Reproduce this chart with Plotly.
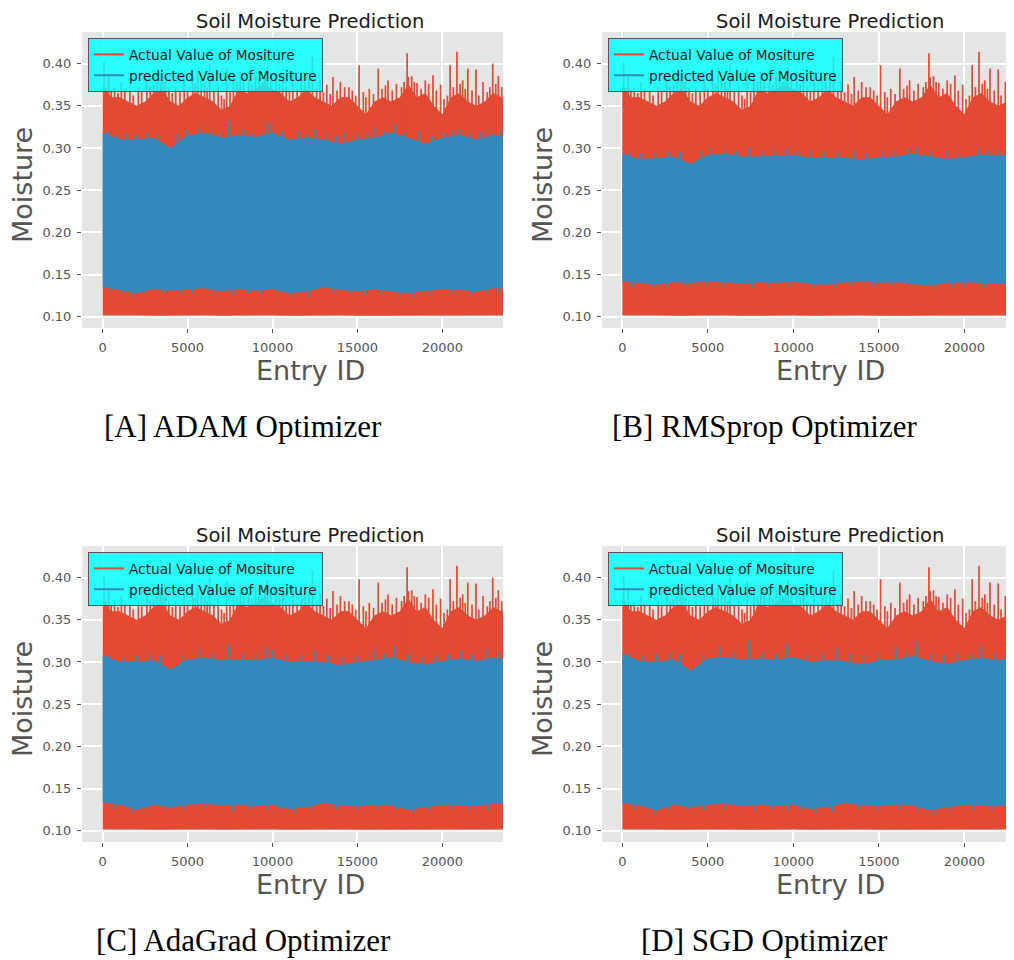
import plotly.graph_objects as go

RED = "#E24A33"
BLUE = "#348ABD"
BG = "#E5E5E5"

# ---------------- data ----------------
entry_fine = list(range(0, 24001, 500))     # sample positions of the actual-value upper envelope
entry_coarse = list(range(0, 24001, 1000))  # sample positions of the other envelopes

actual_upper = [0.375, 0.36, 0.36, 0.355, 0.35, 0.355, 0.365, 0.37, 0.355, 0.35,
                0.36, 0.365, 0.36, 0.355, 0.345, 0.35, 0.37, 0.365, 0.37, 0.375,
                0.37, 0.365, 0.355, 0.36, 0.37, 0.36, 0.355, 0.35, 0.36, 0.36,
                0.35, 0.34, 0.355, 0.36, 0.355, 0.36, 0.375, 0.36, 0.365, 0.35,
                0.34, 0.36, 0.365, 0.355, 0.35, 0.355, 0.365, 0.36, 0.355]
actual_lower = [0.1015, 0.1012, 0.1015, 0.1013, 0.1015, 0.1012, 0.1015, 0.1014, 0.1015, 0.1012,
                0.1015, 0.1013, 0.1015, 0.1012, 0.1015, 0.1014, 0.1015, 0.1012, 0.1015, 0.1013,
                0.1015, 0.1012, 0.1015, 0.1014, 0.1015]
actual_spike_ids = [80, 350, 700, 1100, 1600, 2100, 2600, 3000, 3400, 3700, 4300, 4800, 5300, 5600,
                    6000, 6300, 6800, 7300, 7700, 8100, 8600, 9000, 9400, 9700, 10200, 10600, 11200,
                    11700, 12350, 12800, 13200, 13560, 14000, 14500, 15100, 15700, 16230, 16800,
                    17300, 17930, 18200, 18510, 19000, 19450, 19900, 20460, 20860, 21200, 21500,
                    21980, 22400, 22970, 23300, 23700]
actual_spike_vals = [0.402, 0.385, 0.372, 0.378, 0.368, 0.372, 0.38, 0.375, 0.388, 0.378, 0.372, 0.38,
                     0.385, 0.392, 0.378, 0.40, 0.375, 0.395, 0.385, 0.39, 0.382, 0.385, 0.378, 0.396,
                     0.38, 0.386, 0.39, 0.378, 0.408, 0.38, 0.375, 0.384, 0.378, 0.372, 0.398, 0.37,
                     0.394, 0.38, 0.376, 0.412, 0.385, 0.377, 0.38, 0.386, 0.375, 0.398, 0.414, 0.38,
                     0.394, 0.393, 0.378, 0.40, 0.385, 0.39]
actual_minor_ids = [200, 500, 900, 1300, 1800, 2300, 2800, 3200, 3550, 3900, 4100, 4550, 5000, 5450,
                    5800, 6150, 6550, 7000, 7150, 7500, 7900, 8300, 8800, 9200, 9550, 9900, 10400,
                    10800, 11000, 11450, 11900, 12150, 12600, 13000, 13400, 13800, 14250, 14700,
                    14900, 15350, 15500, 15950, 16450, 16650, 17050, 17600, 17750, 18000, 18350,
                    18750, 19200, 19650, 20100, 20300, 20650, 21050, 21350, 21750, 22150, 22650,
                    22800, 23150, 23500]
actual_minor_vals = [0.372, 0.368, 0.365, 0.37, 0.362, 0.366, 0.372, 0.378, 0.38, 0.372, 0.365, 0.366,
                     0.37, 0.376, 0.38, 0.372, 0.368, 0.362, 0.358, 0.366, 0.378, 0.382, 0.375, 0.38,
                     0.384, 0.38, 0.376, 0.372, 0.368, 0.37, 0.378, 0.382, 0.37, 0.366, 0.364, 0.368,
                     0.372, 0.368, 0.362, 0.366, 0.36, 0.364, 0.37, 0.374, 0.368, 0.372, 0.378, 0.384,
                     0.378, 0.37, 0.376, 0.368, 0.358, 0.362, 0.372, 0.376, 0.37, 0.368, 0.362, 0.366,
                     0.372, 0.376, 0.372]

# ADAM
adam_upper = [0.318, 0.31, 0.31, 0.312, 0.30, 0.315, 0.318, 0.312, 0.315, 0.313, 0.318, 0.31, 0.312,
              0.31, 0.305, 0.31, 0.312, 0.318, 0.312, 0.305, 0.312, 0.315, 0.31, 0.315, 0.312]
adam_lower = [0.135, 0.132, 0.128, 0.133, 0.131, 0.133, 0.134, 0.13, 0.133, 0.131, 0.133, 0.128, 0.13,
              0.135, 0.132, 0.13, 0.133, 0.13, 0.128, 0.131, 0.133, 0.132, 0.13, 0.134, 0.133]
adam_spike_ids = [300, 800, 1400, 2000, 2600, 3300, 4400, 4900, 5700, 6400, 6900, 7400, 8300, 8800,
                  9600, 9900, 10600, 11500, 12000, 12500, 13200, 13800, 14200, 15000, 15600, 16000,
                  16600, 17200, 17800, 18600, 19400, 20100, 20600, 21000, 21600, 22300, 22900, 23400]
adam_spike_vals = [0.32, 0.316, 0.318, 0.315, 0.318, 0.317, 0.316, 0.322, 0.325, 0.32, 0.318, 0.332,
                   0.322, 0.318, 0.33, 0.328, 0.32, 0.32, 0.316, 0.322, 0.316, 0.314, 0.318, 0.316,
                   0.318, 0.325, 0.32, 0.328, 0.318, 0.32, 0.314, 0.318, 0.32, 0.322, 0.318, 0.32,
                   0.318, 0.32]
adam_dip_ids = [500, 1200, 1700, 2400, 3600, 4600, 5300, 6600, 7700, 8600, 9300, 10400, 11100, 12100,
                13600, 14600, 15400, 16400, 17500, 18300, 19300, 20600, 21800, 22600, 23300]
adam_dip_vals = [0.129, 0.127, 0.124, 0.127, 0.128, 0.128, 0.129, 0.127, 0.125, 0.128, 0.127, 0.128,
                 0.124, 0.123, 0.128, 0.127, 0.126, 0.128, 0.125, 0.123, 0.126, 0.128, 0.127, 0.128,
                 0.129]

# RMSprop
rmsprop_upper = [0.293, 0.287, 0.288, 0.29, 0.281, 0.292, 0.293, 0.29, 0.29, 0.291, 0.292, 0.288,
                 0.288, 0.289, 0.286, 0.289, 0.29, 0.293, 0.29, 0.287, 0.289, 0.292, 0.291, 0.293, 0.29]
rmsprop_lower = [0.142, 0.14, 0.138, 0.141, 0.14, 0.142, 0.141, 0.139, 0.141, 0.14, 0.142, 0.139,
                 0.138, 0.141, 0.142, 0.14, 0.141, 0.139, 0.137, 0.14, 0.141, 0.14, 0.139, 0.141, 0.14]
rmsprop_spike_ids = [400, 1100, 1900, 2700, 3400, 4600, 5200, 6100, 6700, 7400, 8200, 8900, 9600,
                     10300, 11000, 11800, 12600, 13600, 14300, 15200, 15900, 16700, 17200, 18000,
                     19000, 19700, 20800, 21400, 22000, 22600]
rmsprop_spike_vals = [0.295, 0.294, 0.294, 0.296, 0.295, 0.296, 0.30, 0.298, 0.296, 0.301, 0.296,
                      0.297, 0.30, 0.296, 0.297, 0.295, 0.295, 0.298, 0.294, 0.296, 0.296, 0.299,
                      0.301, 0.296, 0.297, 0.295, 0.299, 0.297, 0.298, 0.296]
rmsprop_dip_ids = [600, 1800, 2600, 3700, 4900, 5900, 7600, 8500, 9800, 11200, 12400, 13400, 14700,
                   15800, 16900, 18300, 19300, 20000, 21200, 22400]
rmsprop_dip_vals = [0.136, 0.134, 0.136, 0.136, 0.137, 0.136, 0.135, 0.137, 0.136, 0.134, 0.135,
                    0.137, 0.136, 0.137, 0.136, 0.133, 0.136, 0.135, 0.136, 0.136]

# AdaGrad
adagrad_upper = [0.308, 0.30, 0.30, 0.302, 0.291, 0.303, 0.305, 0.302, 0.303, 0.302, 0.305, 0.30,
                 0.301, 0.30, 0.296, 0.30, 0.302, 0.306, 0.30, 0.297, 0.301, 0.304, 0.301, 0.305, 0.302]
adagrad_lower = [0.134, 0.131, 0.125, 0.131, 0.128, 0.131, 0.132, 0.13, 0.131, 0.129, 0.131, 0.126,
                 0.128, 0.133, 0.13, 0.129, 0.131, 0.13, 0.125, 0.128, 0.131, 0.13, 0.129, 0.132, 0.131]
adagrad_spike_ids = [400, 1200, 2000, 2800, 3400, 4700, 5700, 6500, 7400, 8200, 9000, 9600, 10000,
                     10800, 11700, 12500, 13300, 14100, 15000, 16000, 16600, 17200, 18000, 18800,
                     19600, 20400, 21100, 21800, 22600, 23300]
adagrad_spike_vals = [0.308, 0.306, 0.307, 0.309, 0.307, 0.309, 0.315, 0.31, 0.321, 0.31, 0.309,
                      0.318, 0.314, 0.309, 0.308, 0.313, 0.308, 0.306, 0.308, 0.314, 0.31, 0.319,
                      0.309, 0.306, 0.308, 0.309, 0.314, 0.309, 0.315, 0.31]
adagrad_dip_ids = [700, 1800, 2700, 3800, 4800, 6000, 7700, 8700, 9700, 10500, 11300, 12300, 13800,
                   15000, 16200, 17300, 18300, 19200, 20500, 21600, 22700]
adagrad_dip_vals = [0.126, 0.121, 0.126, 0.125, 0.126, 0.127, 0.123, 0.126, 0.125, 0.126, 0.121,
                    0.124, 0.126, 0.125, 0.126, 0.125, 0.121, 0.124, 0.126, 0.125, 0.125]

# SGD
sgd_upper = [0.31, 0.301, 0.30, 0.303, 0.29, 0.304, 0.306, 0.303, 0.304, 0.303, 0.306, 0.30,
             0.302, 0.301, 0.297, 0.302, 0.303, 0.307, 0.301, 0.298, 0.302, 0.305, 0.302, 0.306, 0.303]
sgd_lower = [0.133, 0.13, 0.124, 0.131, 0.128, 0.131, 0.132, 0.129, 0.131, 0.129, 0.131, 0.126,
             0.128, 0.133, 0.13, 0.129, 0.131, 0.13, 0.124, 0.128, 0.131, 0.13, 0.129, 0.132, 0.131]
sgd_spike_ids = [400, 1200, 2000, 2800, 3400, 4700, 5700, 6500, 7400, 8200, 9000, 9600, 10800,
                 11700, 12500, 13300, 14100, 15000, 16000, 16600, 17200, 18000, 18800, 19600,
                 20400, 21000, 21800, 22500, 23300]
sgd_spike_vals = [0.31, 0.308, 0.309, 0.31, 0.309, 0.31, 0.318, 0.312, 0.325, 0.312, 0.31, 0.322,
                  0.31, 0.31, 0.316, 0.31, 0.308, 0.31, 0.317, 0.312, 0.325, 0.31, 0.308, 0.31, 0.31,
                  0.318, 0.31, 0.32, 0.312]
sgd_dip_ids = [700, 1900, 2700, 3800, 4800, 6000, 7700, 8700, 9700, 10500, 11300, 12300, 13800,
               15000, 16200, 17300, 18300, 19200, 20500, 21600, 22700]
sgd_dip_vals = [0.125, 0.119, 0.125, 0.124, 0.125, 0.126, 0.123, 0.125, 0.124, 0.125, 0.12, 0.123,
                0.125, 0.124, 0.125, 0.124, 0.119, 0.123, 0.125, 0.124, 0.124]

y_tick_vals = [0.10, 0.15, 0.20, 0.25, 0.30, 0.35, 0.40]
x_tick_vals = [0, 5000, 10000, 15000, 20000]
series_names = ["Actual Value of Mositure", "predicted Value of Mositure"]
chart_title = "Soil Moisture Prediction"
x_label = "Entry ID"
y_label = "Moisture"
captions = ["[A] ADAM Optimizer", "[B] RMSprop Optimizer", "[C] AdaGrad Optimizer", "[D] SGD Optimizer"]

pred_upper = [adam_upper, rmsprop_upper, adagrad_upper, sgd_upper]
pred_lower = [adam_lower, rmsprop_lower, adagrad_lower, sgd_lower]
pred_spike_ids = [adam_spike_ids, rmsprop_spike_ids, adagrad_spike_ids, sgd_spike_ids]
pred_spike_vals = [adam_spike_vals, rmsprop_spike_vals, adagrad_spike_vals, sgd_spike_vals]
pred_dip_ids = [adam_dip_ids, rmsprop_dip_ids, adagrad_dip_ids, sgd_dip_ids]
pred_dip_vals = [adam_dip_vals, rmsprop_dip_vals, adagrad_dip_vals, sgd_dip_vals]

# ---------------- layout geometry (pixels of the 1014x960 window) ----------------
PAGE_OFF = 8                 # default body margin of the html page
W, H = 1014 - PAGE_OFF, 960 - PAGE_OFF


def fx(p):
    return (p - PAGE_OFF) / W


def fy(p):
    return 1 - (p - PAGE_OFF) / H


# plot boxes: (left, right, top, bottom) in window px
boxes = [(82, 503, 32, 328), (602, 1014, 32, 328), (82, 503, 546, 842), (602, 1014, 546, 842)]
xranges = [[-1219, 23575], [-1187, 22906], [-1219, 23575], [-1187, 22906]]
yrange = [0.0868, 0.4373]
centers_x = [310, 830, 310, 830]
ylabel_x = [22, 542, 22, 542]
caption_x = [243, 764, 243, 764]
row_off = [0, 0, 514, 514]
legend_left = [88, 608, 88, 608]


def segs(ids, vals, base):
    xs, ys = [], []
    for e, v in zip(ids, vals):
        xs += [e, e, None]
        ys += [base, v, None]
    return xs, ys


fig = go.Figure()
layout_axes = {}
annotations = []
legends = {}

for i in range(4):
    xa = "x" if i == 0 else f"x{i+1}"
    ya = "y" if i == 0 else f"y{i+1}"
    lg = "legend" if i == 0 else f"legend{i+1}"

    # actual values: filled band between lower and upper envelopes
    fig.add_trace(go.Scatter(
        x=entry_fine + entry_coarse[::-1],
        y=actual_upper + actual_lower[::-1],
        fill="toself", fillcolor=RED, mode="lines", line=dict(width=0, color=RED),
        showlegend=False, hoverinfo="skip", xaxis=xa, yaxis=ya))
    sx, sy = segs(actual_spike_ids, actual_spike_vals, 0.2)
    mx, my = segs(actual_minor_ids, actual_minor_vals, 0.2)
    fig.add_trace(go.Scatter(x=sx + mx, y=sy + my, mode="lines", line=dict(width=1.7, color=RED),
                             showlegend=False, hoverinfo="skip", xaxis=xa, yaxis=ya))
    # predicted values
    fig.add_trace(go.Scatter(
        x=entry_coarse + entry_coarse[::-1],
        y=pred_upper[i] + pred_lower[i][::-1],
        fill="toself", fillcolor=BLUE, mode="lines", line=dict(width=0, color=BLUE),
        showlegend=False, hoverinfo="skip", xaxis=xa, yaxis=ya))
    sx, sy = segs(pred_spike_ids[i], pred_spike_vals[i], 0.2)
    dx, dy = segs(pred_dip_ids[i], pred_dip_vals[i], 0.2)
    fig.add_trace(go.Scatter(x=sx + dx, y=sy + dy, mode="lines", line=dict(width=1.7, color=BLUE),
                             showlegend=False, hoverinfo="skip", xaxis=xa, yaxis=ya))
    # legend entries
    fig.add_trace(go.Scatter(x=[None], y=[None], mode="lines", line=dict(color=RED, width=2),
                             name=series_names[0], legend=lg, xaxis=xa, yaxis=ya))
    fig.add_trace(go.Scatter(x=[None], y=[None], mode="lines", line=dict(color=BLUE, width=2),
                             name=series_names[1], legend=lg, xaxis=xa, yaxis=ya))

    l, r, t, b = boxes[i]
    axis_common = dict(showgrid=True, gridcolor="white", gridwidth=1.6, zeroline=False,
                       showline=False, ticks="outside", ticklen=4, tickwidth=1, tickcolor="#555555",
                       tickfont=dict(family="DejaVu Sans", size=13, color="#555555"))
    layout_axes["xaxis" if i == 0 else f"xaxis{i+1}"] = dict(
        domain=[fx(l), min(1.0, fx(r))], range=xranges[i], tickvals=x_tick_vals, tickformat="d",
        anchor=ya, ticklabelstandoff=3, **axis_common)
    layout_axes["yaxis" if i == 0 else f"yaxis{i+1}"] = dict(
        domain=[fy(b), fy(t)], range=yrange, tickvals=y_tick_vals, tickformat=".2f",
        anchor=xa, ticklabelstandoff=3, **axis_common)

    legends[lg] = dict(x=fx(legend_left[i]), y=fy(38 + row_off[i]), xanchor="left", yanchor="top",
                       bgcolor="rgba(0,255,255,0.82)", bordercolor="#555555", borderwidth=1,
                       font=dict(family="DejaVu Sans", size=13.7, color="#1a1a1a"),
                       tracegroupgap=0, itemwidth=30)

    off = row_off[i]
    title_y = 8.5 if off == 0 else 8.5 + off
    annotations.append(dict(text=chart_title, x=fx(centers_x[i]), y=fy(title_y), xref="paper",
                            yref="paper", showarrow=False, xanchor="center", yanchor="top",
                            borderpad=0,
                            font=dict(family="DejaVu Sans", size=19.5, color="#1a1a1a")))
    annotations.append(dict(text=x_label, x=fx(centers_x[i]), y=fy(370 + off), xref="paper",
                            yref="paper", showarrow=False, xanchor="center", yanchor="middle",
                            font=dict(family="DejaVu Sans", size=27, color="#555555")))
    annotations.append(dict(text=y_label, x=fx(ylabel_x[i]), y=fy(185 + off), xref="paper",
                            yref="paper", showarrow=False, xanchor="center", yanchor="middle",
                            textangle=-90,
                            font=dict(family="DejaVu Sans", size=27, color="#555555")))
    annotations.append(dict(text=captions[i], x=fx(caption_x[i]), y=fy(426 + off), xref="paper",
                            yref="paper", showarrow=False, xanchor="center", yanchor="middle",
                            font=dict(family="Liberation Serif", size=31, color="#000000")))

fig.update_layout(width=W, height=H, margin=dict(l=0, r=0, t=0, b=0),
                  paper_bgcolor="white", plot_bgcolor=BG, annotations=annotations,
                  **layout_axes, **legends)

fig.write_html("out.html")
